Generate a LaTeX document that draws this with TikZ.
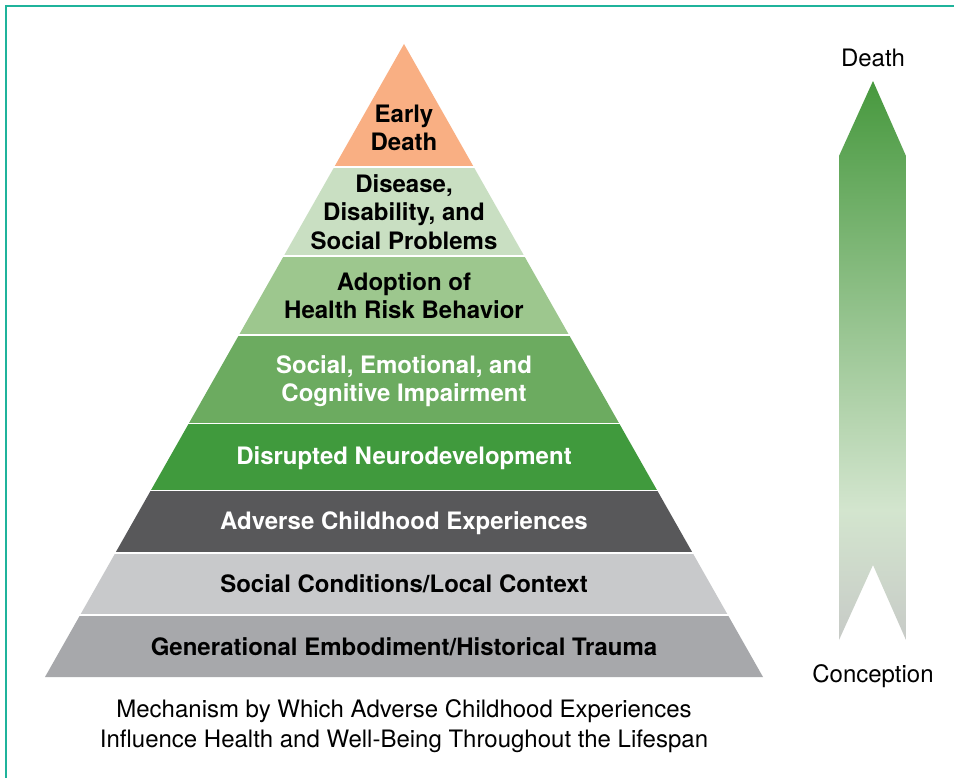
\documentclass[tikz,border=0pt]{standalone}
\usepackage{fontspec}
\setmainfont{TeX Gyre Heros}
\usetikzlibrary{calc}
\definecolor{cEarly}{HTML}{F9AF83}
\definecolor{cDisease}{HTML}{C9DFC2}
\definecolor{cAdopt}{HTML}{9DC78E}
\definecolor{cSocEm}{HTML}{6CAB60}
\definecolor{cDisr}{HTML}{409A3D}
\definecolor{cAdv}{HTML}{58585A}
\definecolor{cSocCond}{HTML}{C8C9CB}
\definecolor{cGen}{HTML}{A7A8AB}
\definecolor{cFrame}{HTML}{1FB39B}
\definecolor{gTop}{HTML}{46983D}
\definecolor{gLight}{HTML}{D3E5CE}
\definecolor{gGray}{HTML}{C7CAC7}
\newcommand\pyrband[3]{%
  \begin{scope}
    \clip (0,#1) rectangle (954,#2);
    \fill[#3] (404,44) -- (45,677) -- (763,677) -- cycle;
  \end{scope}}
\begin{document}
\begin{tikzpicture}[x=1pt,y=-1pt,
  lvl/.style={align=center,inner sep=0pt,font=\bfseries\fontsize{24}{28.5}\selectfont},
  plain/.style={align=center,inner sep=0pt,font=\fontsize{24}{30}\selectfont,text=black}]
\useasboundingbox (0,0) rectangle (954,778);
\fill[white] (0,0) rectangle (954,778);
\draw[cFrame,line width=1.5pt] (6,778) -- (6,6) -- (954,6);
% pyramid bands
\pyrband{40}{166}{cEarly}
\pyrband{169}{255}{cDisease}
\pyrband{257.5}{333.5}{cAdopt}
\pyrband{336.5}{422}{cSocEm}
\pyrband{424.5}{489}{cDisr}
\pyrband{491.5}{551.5}{cAdv}
\pyrband{554}{613}{cSocCond}
\pyrband{616}{677}{cGen}
% labels
\node[lvl,text=black] (early) at (404,128) {Early\\Death};
\node[lvl,text=black] (disease) at (404,212) {Disease,\\Disability, and\\Social Problems};
\node[lvl,text=black] (adopt) at (404,295.5) {Adoption of\\Health Risk Behavior};
\node[lvl,text=white] (socem) at (404,381) {Social, Emotional, and\\Cognitive Impairment};
\node[lvl,text=white] (disr) at (404,458.5) {Disrupted Neurodevelopment};
\node[lvl,text=white] (adv) at (404,523.5) {Adverse Childhood Experiences};
\node[lvl,text=black] (soccond) at (404,584) {Social Conditions/Local Context};
\node[lvl,text=black] (gen) at (404,646.5) {Generational Embodiment/Historical Trauma};
\node[plain] (caption) at (404,726.5) {Mechanism by Which Adverse Childhood Experiences\\Influence Health and Well-Being Throughout the Lifespan};
% arrow
\begin{scope}
  \clip (839,156) -- (873,81) -- (906,156) -- (906,640) -- (873,565) -- (839,640) -- cycle;
  \shade[top color=gTop,bottom color=gLight] (835,78) rectangle (910,510);
  \shade[top color=gLight,bottom color=gGray] (835,509.5) rectangle (910,642);
\end{scope}
\node[plain] (death) at (873,58) {Death};
\node[plain] (conception) at (873,676) {Conception};
\end{tikzpicture}
\end{document}
